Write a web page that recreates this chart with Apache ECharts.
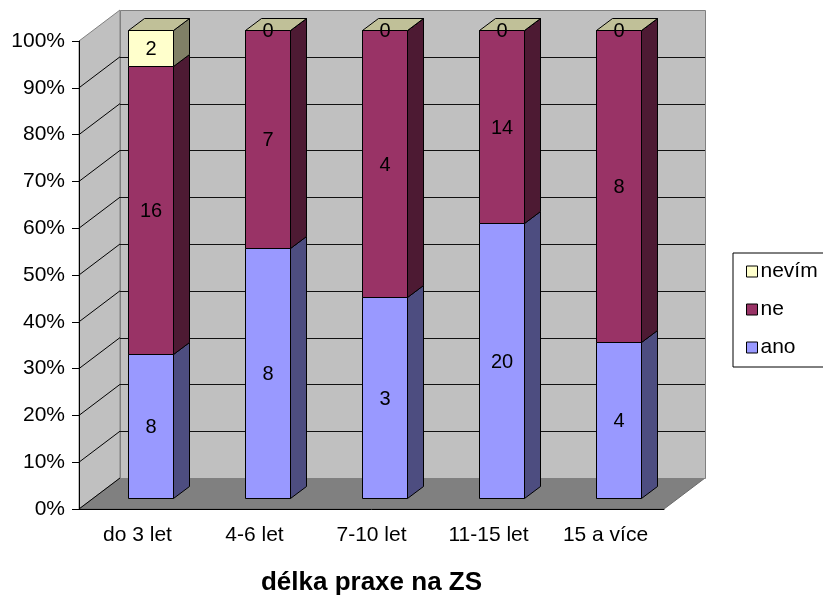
<!DOCTYPE html>
<html>
<head>
<meta charset="utf-8">
<script src="https://cdn.jsdelivr.net/npm/echarts@6/dist/echarts.min.js"></script>
<style>
  html, body { margin: 0; padding: 0; background: #fff; }
  #chart { width: 823px; height: 596px; }
</style>
</head>
<body>
<div id="chart"></div>
<script>
// Counts of answers per length of practice
const categories = ['do 3 let', '4-6 let', '7-10 let', '11-15 let', '15 a více'];
const seriesNames = ['ano', 'ne', 'nevím'];
const anoCounts = [8, 8, 3, 20, 4];
const neCounts = [16, 7, 4, 14, 8];
const nevimCounts = [2, 0, 0, 0, 0];
const percentTicks = [0, 10, 20, 30, 40, 50, 60, 70, 80, 90, 100];

const FONT = "'Liberation Sans', Arial, sans-serif";

// oblique projection of the box walls and of the bars (pixels)
const WALL_DX = 41, WALL_DY = -31;
const BAR_OFF_X = 13, BAR_OFF_Y = -11;
const BAR_DX = 16, BAR_DY = -12;
const BAR_RATIO = 0.385;

const palette = {
  'ano':   { front: '#9999ff', side: '#4d4d80', top: '#7a7acc' },
  'ne':    { front: '#993366', side: '#4d1a33', top: '#7a2952' },
  'nevím': { front: '#ffffcc', side: '#808066', top: '#c0c098' }
};

const stacks = [anoCounts, neCounts, nevimCounts];
const totals = categories.map((_, i) => stacks.reduce((s, arr) => s + arr[i], 0));

// [category index, start %, end %, count]
function segmentData(k) {
  return categories.map((_, i) => {
    let start = 0;
    for (let j = 0; j < k; j++) start += stacks[j][i];
    const end = start + stacks[k][i];
    return [i, start / totals[i] * 100, end / totals[i] * 100, stacks[k][i]];
  });
}

const crisp = v => Math.round(v) + 0.5;

function renderWalls(params, api) {
  const cs = params.coordSys;
  const x0 = cs.x, x1 = cs.x + cs.width;
  const yOf = v => api.coord([0, v])[1];
  const yb = yOf(percentTicks[0]);
  const yt = yOf(percentTicks[percentTicks.length - 1]);
  const children = [];
  // floor
  children.push({
    type: 'polygon',
    shape: { points: [[x0, yb], [x0 + WALL_DX, yb + WALL_DY], [x1 + WALL_DX, yb + WALL_DY], [x1, yb]] },
    style: { fill: '#808080', stroke: '#6a6a6a', lineWidth: 1 }
  });
  // side wall
  children.push({
    type: 'polygon',
    shape: { points: [[x0, yb], [x0, yt], [x0 + WALL_DX, yt + WALL_DY], [x0 + WALL_DX, yb + WALL_DY]] },
    style: { fill: '#c0c0c0', stroke: '#808080', lineWidth: 1 }
  });
  // back wall
  children.push({
    type: 'rect',
    shape: { x: crisp(x0 + WALL_DX), y: crisp(yt + WALL_DY), width: Math.round(cs.width), height: Math.round(yb - yt) },
    style: { fill: '#c0c0c0', stroke: '#808080', lineWidth: 1 }
  });
  // gridlines along the side wall and the back wall
  percentTicks.forEach(v => {
    if (v === percentTicks[percentTicks.length - 1]) return;
    const y = yOf(v);
    children.push({
      type: 'line',
      shape: { x1: x0, y1: y, x2: x0 + WALL_DX, y2: y + WALL_DY },
      style: { stroke: '#000', lineWidth: 1 }
    });
    if (v !== percentTicks[0]) {
      children.push({
        type: 'line',
        shape: { x1: x0 + WALL_DX, y1: crisp(y + WALL_DY), x2: x1 + WALL_DX, y2: crisp(y + WALL_DY) },
        style: { stroke: '#111', lineWidth: 1 }
      });
    }
  });
  return { type: 'group', children };
}

function makeBarSeries(k) {
  const name = seriesNames[k];
  const col = palette[name];
  const isTop = k === stacks.length - 1;
  return {
    type: 'custom',
    name: name,
    data: segmentData(k),
    clip: false,
    z: 3,
    encode: { x: 0, y: [1, 2] },
    itemStyle: { color: col.front, borderColor: '#000', borderWidth: 1 },
    renderItem(params, api) {
      const cat = api.value(0);
      const p0 = api.coord([cat, api.value(1)]);
      const p1 = api.coord([cat, api.value(2)]);
      const w = api.size([1, 0])[0] * BAR_RATIO;
      const fx = Math.round(p0[0] + BAR_OFF_X - w / 2) + 0.5;
      const fw = Math.round(w);
      const by = Math.round(p0[1] + BAR_OFF_Y) + 0.5;
      const ty = Math.round(p1[1] + BAR_OFF_Y) + 0.5;
      const line = { stroke: '#000', lineWidth: 1, lineJoin: 'round' };
      const children = [
        {
          type: 'polygon',
          shape: { points: [[fx + fw, ty], [fx + fw + BAR_DX, ty + BAR_DY], [fx + fw + BAR_DX, by + BAR_DY], [fx + fw, by]] },
          style: Object.assign({ fill: col.side }, line)
        },
        {
          type: 'rect',
          shape: { x: fx, y: ty, width: fw, height: by - ty },
          style: Object.assign({ fill: col.front }, line)
        }
      ];
      if (isTop) {
        children.push({
          type: 'polygon',
          shape: { points: [[fx, ty], [fx + BAR_DX, ty + BAR_DY], [fx + fw + BAR_DX, ty + BAR_DY], [fx + fw, ty]] },
          style: Object.assign({ fill: col.top }, line)
        });
      }
      children.push({
        type: 'text',
        style: {
          text: String(api.value(3)),
          x: fx + fw / 2,
          y: (ty + by) / 2 + 1,
          align: 'center',
          verticalAlign: 'middle',
          fill: '#000',
          fontSize: 20,
          fontFamily: FONT
        }
      });
      return { type: 'group', children };
    }
  };
}

const chart = echarts.init(document.getElementById('chart'), null, { renderer: 'canvas' });

chart.setOption({
  animation: false,
  backgroundColor: '#fff',
  textStyle: { fontFamily: FONT },
  grid: { left: 79, right: 159, top: 41, bottom: 87, containLabel: false, outerBoundsMode: 'none' },
  legend: {
    data: ['nevím', 'ne', 'ano'],
    orient: 'vertical',
    left: 733,
    top: 253,
    icon: 'rect',
    itemWidth: 11,
    itemHeight: 11,
    itemGap: 17,
    padding: [8, 40, 9, 13],
    borderColor: '#000',
    borderWidth: 1,
    backgroundColor: '#fff',
    selectedMode: false,
    itemStyle: { borderColor: '#000', borderWidth: 1 },
    textStyle: { fontSize: 21, fontFamily: FONT, color: '#000', padding: [0, 0, 0, -2] }
  },
  xAxis: {
    type: 'category',
    data: categories,
    boundaryGap: true,
    z: 10,
    axisLine: { lineStyle: { color: '#000', width: 1 } },
    axisTick: { length: 7, lineStyle: { color: '#000' } },
    axisLabel: { interval: 0, fontSize: 21, fontFamily: FONT, color: '#000', margin: 16 },
    splitLine: { show: false },
    name: 'délka praxe na ZS',
    nameLocation: 'middle',
    nameGap: 61,
    nameTextStyle: { fontSize: 26, fontWeight: 'bold', fontFamily: FONT, color: '#000' }
  },
  yAxis: {
    type: 'value',
    min: percentTicks[0],
    max: percentTicks[percentTicks.length - 1],
    interval: percentTicks[1] - percentTicks[0],
    z: 10,
    axisLine: { show: true, lineStyle: { color: '#000', width: 1 } },
    axisTick: { show: true, length: 7, lineStyle: { color: '#000' } },
    splitLine: { show: false },
    axisLabel: { formatter: '{value}%', fontSize: 21, fontFamily: FONT, color: '#000', margin: 14 }
  },
  series: [
    {
      type: 'custom',
      name: 'walls',
      data: [[0, 0]],
      clip: false,
      silent: true,
      z: 1,
      encode: { x: 0, y: 1 },
      renderItem: renderWalls
    },
    makeBarSeries(0),
    makeBarSeries(1),
    makeBarSeries(2)
  ]
});
</script>
</body>
</html>
